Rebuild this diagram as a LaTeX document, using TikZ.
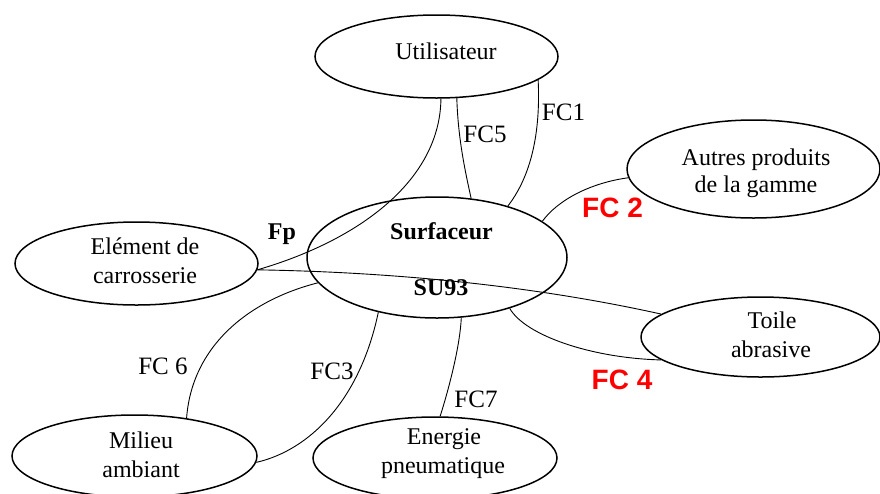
\documentclass[tikz,border=0pt]{standalone}
\usepackage{fontspec}
\setmainfont{Liberation Serif}
\newfontfamily\redfont{Liberation Sans}
\usetikzlibrary{shapes.geometric}
\begin{document}
\begin{tikzpicture}[x=1pt,y=-1pt,
  oval/.style={draw, ellipse, line width=1.5pt, inner sep=0pt},
  lbl/.style={font=\fontsize{24}{28}\selectfont, inner sep=0pt, anchor=base},
  boldlbl/.style={font=\fontsize{24}{28}\selectfont\bfseries, inner sep=0pt, anchor=base},
  fc/.style={font=\fontsize{25}{30}\selectfont, inner sep=0pt},
  fcred/.style={font=\redfont\fontsize{28}{32}\selectfont\bfseries, text=red, inner sep=0pt},
  link/.style={line width=0.9pt}]
\useasboundingbox (0,0) rectangle (880,493);

% ellipses
\node[oval, minimum width=243pt, minimum height=83pt] (u) at (436.5,56.5) {};
\node[oval, minimum width=253pt, minimum height=98pt] (a) at (753.5,169) {};
\node[oval, minimum width=260pt, minimum height=121pt] (s) at (437,257.5) {};
\node[oval, minimum width=243pt, minimum height=83pt] (e) at (136.5,263.5) {};
\node[oval, minimum width=239pt, minimum height=80pt] (t) at (760.5,337) {};
\node[oval, minimum width=245pt, minimum height=82pt] (m) at (134.5,456) {};
\node[oval, minimum width=244pt, minimum height=82pt] (en) at (435,458) {};

% texts
\node[lbl] (ut) at (446,59) {Utilisateur};
\node[lbl] (a1) at (756,165) {Autres produits};
\node[lbl] (a2) at (756,192) {de la gamme};
\node[boldlbl] (s1) at (441.5,239) {Surfaceur};
\node[boldlbl] (s2) at (441,295) {SU93};
\node[lbl] (e1) at (145,254) {Elément de};
\node[lbl] (e2) at (145,283) {carrosserie};
\node[lbl] (t1) at (772,328) {Toile};
\node[lbl] (t2) at (771,357) {abrasive};
\node[lbl] (m1) at (141,448) {Milieu};
\node[lbl] (m2) at (141,477) {ambiant};
\node[lbl] (n1) at (444,444) {Energie};
\node[lbl] (n2) at (443,473) {pneumatique};

% connectors
\draw[link] (u.-84) .. controls (440,180) and (360,240) .. (e.-3);
\draw[link] (u.-64) .. controls (458,140) and (466,175) .. (s.60);
\draw[link] (u.-13) .. controls (541,140) and (528,180) .. (s.36);
\draw[link] (a.-176) .. controls (590,183) and (558,200) .. (s.19);
\draw[link] (e.-3) .. controls (390,272) and (530,285) .. (t.167);
\draw[link] (s.-35) .. controls (525,335) and (590,358) .. (t.-167);
\draw[link] (m.36) .. controls (192,345) and (250,300) .. (s.-168);
\draw[link] (m.-3) .. controls (310,450) and (360,400) .. (s.-137);
\draw[link] (en.83) .. controls (450,385) and (460,345) .. (s.-68);

% connector labels
\node[boldlbl] (fp) at (282,239) {Fp};
\node[fc] (fc1) at (563.5,112.5) {FC1};
\node[fc] (fc5) at (485,134) {FC5};
\node[fc] (fc6) at (163,366) {FC 6};
\node[fc] (fc3) at (332,371) {FC3};
\node[fc] (fc7) at (476,399) {FC7};
\node[fcred] (fc2) at (612.5,207.5) {FC 2};
\node[fcred] (fc4) at (622,379.5) {FC 4};
\end{tikzpicture}
\end{document}
